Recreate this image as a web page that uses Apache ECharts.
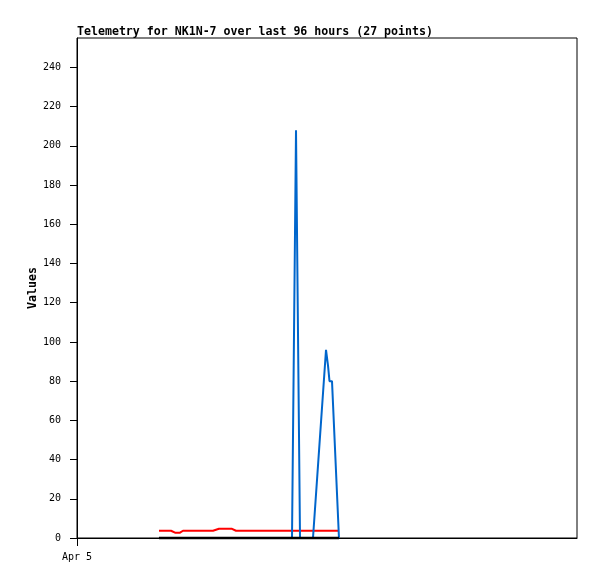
<!DOCTYPE html>
<html>
<head>
<meta charset="utf-8">
<script src="https://cdn.jsdelivr.net/npm/echarts@6/dist/echarts.min.js"></script>
<style>html,body{margin:0;padding:0;background:#fff}#c{width:597px;height:579px}</style>
</head>
<body>
<div id="c"></div>
<script>
// Hours since Apr 5 00:00 for each of the 27 points
var hours = [15.74, 16.90, 18.05, 18.82, 19.78, 20.35, 22.08, 24.00, 26.11, 27.26, 29.76, 30.53, 32.45, 34.37, 36.29, 38.21, 40.13, 41.28, 42.05, 42.82, 45.31, 46.56, 47.81, 48.19, 48.48, 48.96, 50.30];
var blueValues = [0, 0, 0, 0, 0, 0, 0, 0, 0, 0, 0, 0, 0, 0, 0, 0, 0, 0, 208, 0, 0, 48, 96, 88, 80, 80, 0];
var redValues = [3.7, 3.7, 3.7, 2.7, 2.7, 3.7, 3.7, 3.7, 3.7, 4.7, 4.7, 3.7, 3.7, 3.7, 3.7, 3.7, 3.7, 3.7, 3.7, 3.7, 3.7, 3.7, 3.7, 3.7, 3.7, 3.7, 3.7];
var blackValues = [0, 0, 0, 0, 0, 0, 0, 0, 0, 0, 0, 0, 0, 0, 0, 0, 0, 0, 0, 0, 0, 0, 0, 0, 0, 0, 0];
var yTicks = [0, 20, 40, 60, 80, 100, 120, 140, 160, 180, 200, 220, 240];
var xTickHours = [0];
var xTickLabels = ['Apr 5'];

function pairs(vals) { return hours.map(function (h, i) { return [h, vals[i]]; }); }

var mono = 'DejaVu Sans Mono';
var chart = echarts.init(document.getElementById('c'), null, { renderer: 'canvas' });
chart.setOption({
  animation: false,
  backgroundColor: '#fff',
  title: {
    text: 'Telemetry for NK1N-7 over last 96 hours (27 points)',
    left: 77, top: 26, padding: 0,
    textStyle: { fontFamily: mono, fontSize: 11.6, fontWeight: 'bold', color: '#000' }
  },
  grid: { left: 77, right: 20, top: 38, bottom: 41, show: true, borderColor: '#000', borderWidth: 1, backgroundColor: 'transparent' },
  xAxis: {
    type: 'value', min: 0, max: 96,
    axisLine: { show: true, lineStyle: { color: '#000', width: 1 } },
    axisTick: { show: true, customValues: xTickHours, length: 8, lineStyle: { color: '#000' } },
    axisLabel: {
      customValues: xTickHours, margin: 14, color: '#000', fontFamily: mono, fontSize: 10,
      formatter: function (v) { var i = xTickHours.indexOf(v); return i >= 0 ? xTickLabels[i] : ''; }
    },
    splitLine: { show: false }
  },
  yAxis: {
    type: 'value', min: 0, max: 255,
    name: 'Values', nameLocation: 'middle', nameGap: 38, nameMoveOverlap: false,
    nameTextStyle: { fontFamily: mono, fontSize: 11.6, fontWeight: 'bold', color: '#000' },
    axisLine: { show: true, lineStyle: { color: '#000', width: 1 } },
    axisTick: { show: true, customValues: yTicks, length: 7, lineStyle: { color: '#000' } },
    axisLabel: { customValues: yTicks, margin: 16, color: '#000', fontFamily: mono, fontSize: 10 },
    splitLine: { show: false }
  },
  series: [
    { type: 'line', data: pairs(redValues), showSymbol: false, z: 2, lineStyle: { color: '#ff0000', width: 2 }, itemStyle: { color: '#ff0000' } },
    { type: 'line', data: pairs(blueValues), showSymbol: false, z: 3, lineStyle: { color: '#0066cc', width: 2 }, itemStyle: { color: '#0066cc' } },
    { type: 'line', data: pairs(blackValues), showSymbol: false, clip: false, z: 4, lineStyle: { color: '#000000', width: 2.5 }, itemStyle: { color: '#000' } }
  ]
});
</script>
</body>
</html>
